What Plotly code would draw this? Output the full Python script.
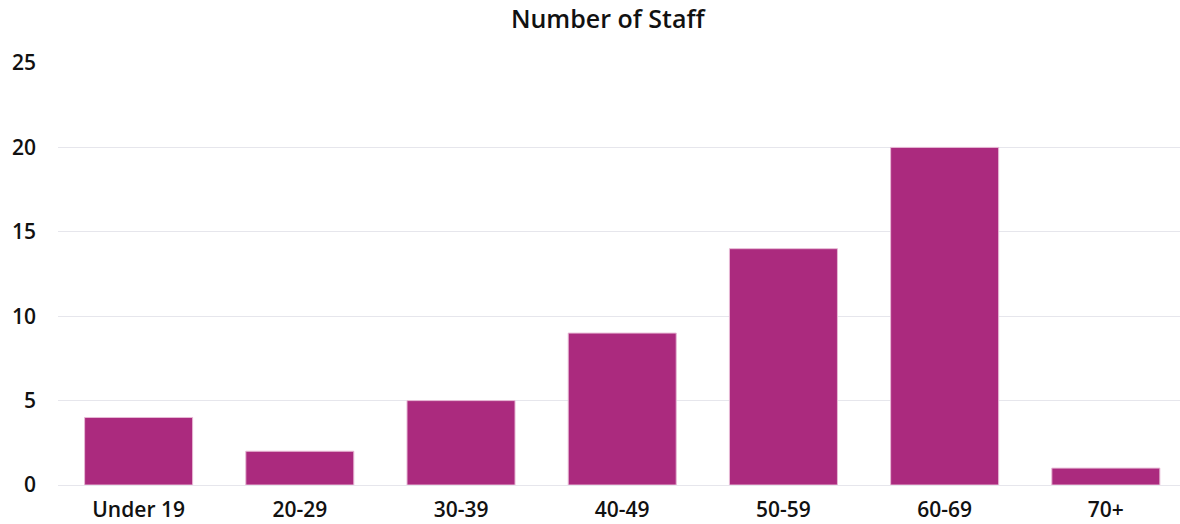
import plotly.graph_objects as go

categories = ["Under 19", "20-29", "30-39", "40-49", "50-59", "60-69", "70+"]
staff = [4, 2, 5, 9, 14, 20, 1]
y_ticks = [0, 5, 10, 15, 20, 25]

BAR = "#AB2A7E"
FONT = "Open Sans"

fig = go.Figure(
    go.Bar(
        x=categories,
        y=staff,
        marker=dict(color=BAR, line=dict(color="#E7B9D5", width=1)),
        hoverinfo="x+y",
    )
)

fig.update_layout(
    width=1180,
    height=524,
    margin=dict(l=58, r=0, t=63, b=39),
    paper_bgcolor="white",
    plot_bgcolor="white",
    bargap=0.33,
    showlegend=False,
    font=dict(family=FONT, color="#111111", size=18),
    title=dict(
        text="Number of Staff",
        x=0.515,
        xanchor="center",
        y=0.963,
        yanchor="middle",
        font=dict(family=FONT, size=25, color="#111111", weight=600),
    ),
    xaxis=dict(
        range=[-0.5, 6.46],
        automargin=False,
        showgrid=False,
        showline=False,
        zeroline=False,
        ticks="",
        tickfont=dict(family=FONT, size=21, color="#111111", weight=600),
        ticklabelstandoff=10,
    ),
    yaxis=dict(
        range=[0, 25],
        automargin=False,
        tickvals=y_ticks,
        showgrid=True,
        gridcolor="#E6E6EC",
        gridwidth=1,
        zeroline=True,
        zerolinecolor="#E6E6EC",
        zerolinewidth=1,
        showline=False,
        ticks="",
        tickfont=dict(family=FONT, size=21, color="#111111", weight=600),
        ticklabelstandoff=21,
    ),
)

fig.write_html("out.html")
